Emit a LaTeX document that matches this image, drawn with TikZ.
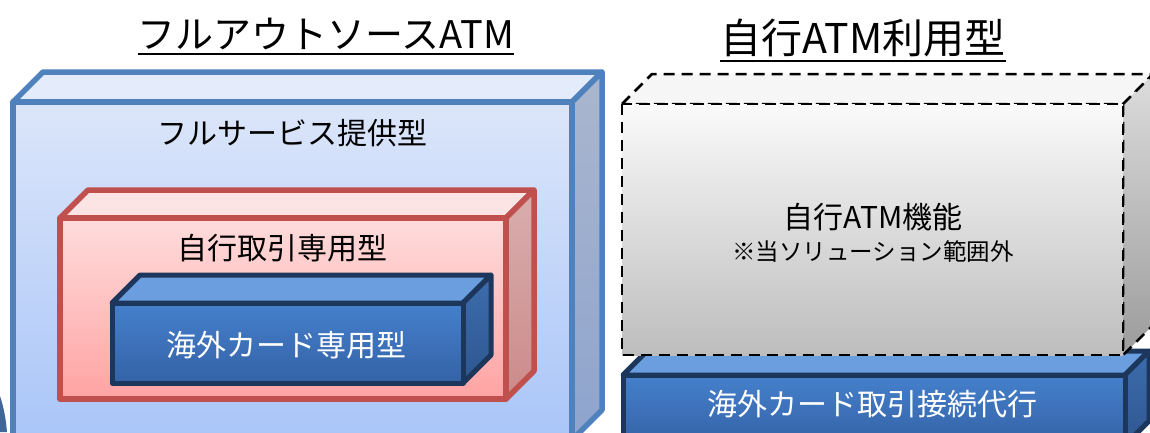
\documentclass[tikz,border=0pt]{standalone}
\usepackage{fontspec}
\setmainfont{Noto Sans CJK JP}
\usepackage{xcolor}
\usepackage{tikz}
\usetikzlibrary{positioning}

\definecolor{fullLine}{HTML}{4F81BD}
\definecolor{fullTop}{HTML}{E4ECFB}
\definecolor{fullFrontA}{HTML}{DCE6FA}
\definecolor{fullFrontB}{HTML}{A9C5F8}
\definecolor{fullSideA}{HTML}{AAB6CE}
\definecolor{fullSideB}{HTML}{8EA4CE}
\definecolor{ownLine}{HTML}{C0504D}
\definecolor{ownTop}{HTML}{FDE4E4}
\definecolor{ownFrontA}{HTML}{FFDCDC}
\definecolor{ownFrontB}{HTML}{FFA3A3}
\definecolor{ownSideA}{HTML}{D9AEAE}
\definecolor{ownSideB}{HTML}{CC8A8A}
\definecolor{cardLine}{HTML}{1C365C}
\definecolor{cardTop}{HTML}{6A9EDE}
\definecolor{cardFrontA}{HTML}{4580CC}
\definecolor{cardFrontB}{HTML}{3462A6}
\definecolor{cardSideA}{HTML}{3D6CAD}
\definecolor{cardSideB}{HTML}{2E5790}
\definecolor{atmTop}{HTML}{F6F6F6}
\definecolor{atmFrontA}{HTML}{FAFAFA}
\definecolor{atmFrontB}{HTML}{BDBDBD}
\definecolor{atmSideA}{HTML}{DCDCDC}
\definecolor{atmSideB}{HTML}{9C9C9C}

% front face (#2,#3)-(#4,#5), depth #6, styles "#1 top/front/side"
\newcommand{\cuboid}[6]{%
  \draw[#1 top] (#2,#3) -- (#2+#6,#3-#6) -- (#4+#6,#3-#6) -- (#4,#3) -- cycle;
  \draw[#1 side] (#4,#3) -- (#4+#6,#3-#6) -- (#4+#6,#5-#6) -- (#4,#5) -- cycle;
  \draw[#1 front] (#2,#3) rectangle (#4,#5);
}

\begin{document}
\begin{tikzpicture}
  [x=1pt,y=-1pt,line join=round,
   full top/.style={draw=fullLine,line width=5.5pt,fill=fullTop},
   full front/.style={draw=fullLine,line width=5.5pt,top color=fullFrontA,bottom color=fullFrontB},
   full side/.style={draw=fullLine,line width=5.5pt,top color=fullSideA,bottom color=fullSideB},
   own top/.style={draw=ownLine,line width=5.5pt,fill=ownTop},
   own front/.style={draw=ownLine,line width=5.5pt,top color=ownFrontA,bottom color=ownFrontB},
   own side/.style={draw=ownLine,line width=5.5pt,top color=ownSideA,bottom color=ownSideB},
   card top/.style={draw=cardLine,line width=5pt,fill=cardTop},
   card front/.style={draw=cardLine,line width=5pt,top color=cardFrontA,bottom color=cardFrontB},
   card side/.style={draw=cardLine,line width=5pt,top color=cardSideA,bottom color=cardSideB},
   atm top/.style={draw=black,line width=2.5pt,dash pattern=on 11pt off 7pt,fill=atmTop},
   atm front/.style={draw=black,line width=2.5pt,dash pattern=on 11pt off 7pt,top color=atmFrontA,bottom color=atmFrontB},
   atm side/.style={draw=black,line width=2.5pt,dash pattern=on 11pt off 7pt,top color=atmSideA,bottom color=atmSideB},
   headtext/.style={inner sep=0pt,font=\fontsize{38}{44}\selectfont},
   boxtext/.style={inner sep=0pt,font=\fontsize{30}{36}\selectfont},
   uline/.style={line width=2pt}]
  \useasboundingbox (0,0) rectangle (1150,432);
  \clip (0,0) rectangle (1150,432);

  % left: full outsourcing
  \cuboid{full}{13}{102}{572}{440}{30}
  \cuboid{own}{60}{218}{506}{399}{28}
  \cuboid{card}{112}{303}{463}{383}{28}
  \fill[fullLine!80!black] (0,396) .. controls (4,408) and (6,420) .. (7,432) -- (0,432) -- cycle;

  \node[headtext] (fulltitle) at (326,34) {フルアウトソースATM};
  \draw[uline] ([yshift=-4pt]fulltitle.south west) -- ([yshift=-4pt]fulltitle.south east);
  \node[boxtext] (fullsvc) at (292,133) {フルサービス提供型};
  \node[boxtext] (ownonly) at (282,248) {自行取引専用型};
  \node[boxtext,text=white] (cardonly) at (286,345) {海外カード専用型};

  % right: own ATM
  \cuboid{card}{623}{375}{1125}{445}{24}
  \cuboid{atm}{622}{104}{1123}{355}{30}

  \node[headtext,font=\fontsize{41}{48}\selectfont] (owntitle) at (863,38) {自行ATM利用型};
  \draw[uline] ([yshift=-4pt]owntitle.south west) -- ([yshift=-4pt]owntitle.south east);
  \node[boxtext] (atmfunc) at (873,217) {自行ATM機能};
  \node[inner sep=0pt,font=\fontsize{23.5}{28}\selectfont,below=9pt of atmfunc] (outscope) {※当ソリューション範囲外};
  \node[boxtext,text=white] (relay) at (872,404) {海外カード取引接続代行};
\end{tikzpicture}
\end{document}
